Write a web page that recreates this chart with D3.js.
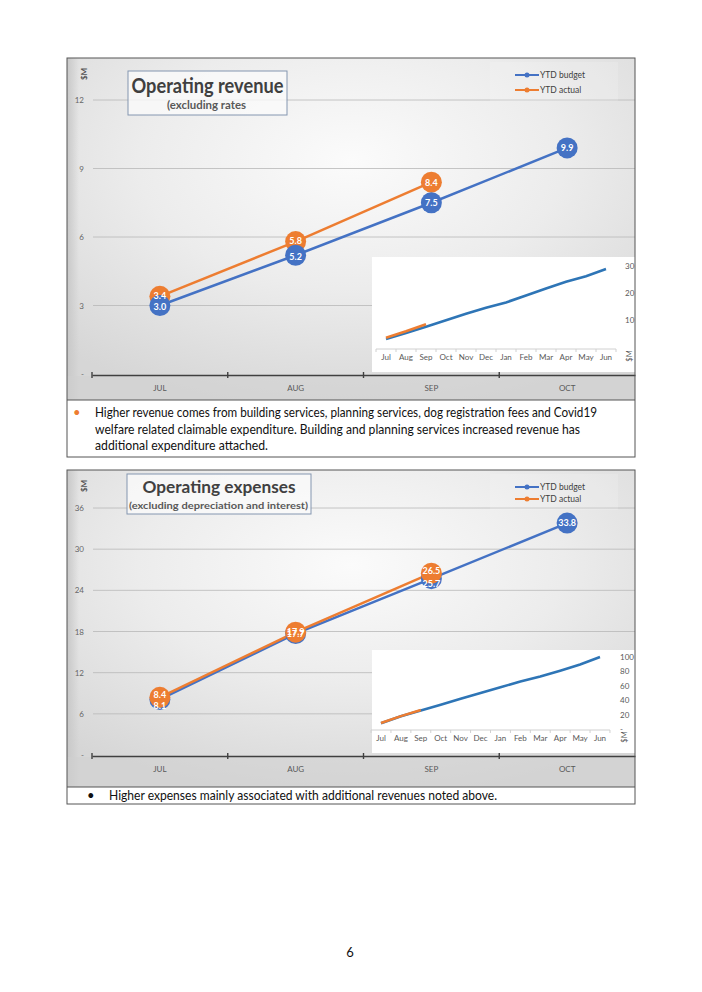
<!DOCTYPE html>
<html>
<head>
<meta charset="utf-8">
<script src="https://cdn.jsdelivr.net/npm/d3@7"></script>
<style>
  html, body { margin: 0; padding: 0; background: #fff; }
  svg { display: block; }
  text { font-family: Lato, "Open Sans", sans-serif; }
</style>
</head>
<body>
<script>
// ---------- DATA ----------
const months = ["JUL", "AUG", "SEP", "OCT"];
const revBudget = [3.0, 5.2, 7.5, 9.9];
const revActual = [3.4, 5.8, 8.4];
const revTicks = [0, 3, 6, 9, 12];
const expBudget = [8.1, 17.7, 25.7, 33.8];
const expActual = [8.4, 17.9, 26.5];
const expTicks = [0, 6, 12, 18, 24, 30, 36];
const insetMonths = ["Jul", "Aug", "Sep", "Oct", "Nov", "Dec", "Jan", "Feb", "Mar", "Apr", "May", "Jun"];
const revBudgetYear = [3.0, 5.2, 7.5, 9.9, 12.3, 14.5, 16.5, 19.1, 21.7, 24.2, 26.2, 28.9];
const revActualYear = [3.4, 5.8, 8.4];
const revInsetTicks = [10, 20, 30];
const expBudgetYear = [8.1, 17.7, 25.7, 33.8, 42, 50, 58, 66, 73, 81, 89.5, 100];
const expActualYear = [8.4, 17.9, 26.5];
const expInsetTicks = [0, 20, 40, 60, 80, 100];
const seriesNames = ["YTD budget", "YTD actual"];
const revNote = ["Higher revenue comes from building services, planning services, dog registration fees and Covid19",
  "welfare related claimable expenditure. Building and planning services increased revenue has",
  "additional expenditure attached."];
const expNote = ["Higher expenses mainly associated with additional revenues noted above."];

const BLUE = "#4472C4", ORANGE = "#ED7D31", INSET_BLUE = "#2E75B6";

const W = 702, H = 992;
const svg = d3.select("body").append("svg").attr("width", W).attr("height", H);
svg.append("rect").attr("width", W).attr("height", H).attr("fill", "#fff");

const defs = svg.append("defs");
const rg = defs.append("radialGradient").attr("id", "bg").attr("cx", "50%").attr("cy", "30%").attr("r", "75%");
rg.append("stop").attr("offset", "0%").attr("stop-color", "#fbfbfb");
rg.append("stop").attr("offset", "50%").attr("stop-color", "#ececec");
rg.append("stop").attr("offset", "100%").attr("stop-color", "#d6d6d6");
const lg = defs.append("linearGradient").attr("id", "leftStrip").attr("x1", "0").attr("x2", "1");
lg.append("stop").attr("offset", "0%").attr("stop-color", "#c8c8c8");
lg.append("stop").attr("offset", "100%").attr("stop-color", "#c8c8c8").attr("stop-opacity", 0);

function drawPanel(cfg) {
  const g = svg.append("g");
  // chart background
  g.append("rect").attr("x", cfg.left).attr("y", cfg.top).attr("width", cfg.right - cfg.left).attr("height", cfg.chartBottom - cfg.top)
    .attr("fill", "url(#bg)");
  g.append("rect").attr("x", cfg.left).attr("y", cfg.top).attr("width", 12).attr("height", cfg.chartBottom - cfg.top)
    .attr("fill", "url(#leftStrip)");
  g.append("rect").attr("x", cfg.left).attr("y", cfg.axisY + 2).attr("width", cfg.right - cfg.left).attr("height", cfg.chartBottom - cfg.axisY - 2)
    .attr("fill", "#cfcfcf").attr("opacity", 0.5);

  const x = d3.scaleBand().domain(months).range([cfg.plotL, cfg.right]).padding(0);
  const y = d3.scaleLinear().domain(cfg.domain).range([cfg.axisY, cfg.yTop]);

  // gridlines
  g.append("g").selectAll("line").data(cfg.ticks.filter(t => t > 0)).join("line")
    .attr("x1", cfg.plotL + 1).attr("x2", cfg.right)
    .attr("y1", d => y(d)).attr("y2", d => y(d))
    .attr("stroke", "#b8b8b8").attr("stroke-width", 0.8);
  // y labels
  g.append("g").selectAll("text").data(cfg.ticks).join("text")
    .attr("x", 84).attr("y", d => y(d) + 3).attr("text-anchor", "end")
    .attr("font-size", 8).attr("fill", "#666")
    .text(d => d === 0 ? "-" : d);
  // $M
  g.append("text").attr("transform", `translate(87,${cfg.top + 16}) rotate(-90)`)
    .attr("text-anchor", "middle").attr("font-size", 8).attr("font-weight", "bold").attr("fill", "#555").text("$M");

  // x axis
  const xa = g.append("g").attr("transform", `translate(0,${cfg.axisY + 1})`)
    .call(d3.axisBottom(x).tickSize(0).tickPadding(10));
  xa.select(".domain").attr("stroke", "#404040").attr("stroke-width", 1.6);
  xa.selectAll(".tick text").attr("font-size", 8).attr("fill", "#595959").attr("font-family", "Lato, sans-serif");
  const bounds = months.map(m => x(m));
  g.append("g").selectAll("line").data(bounds).join("line")
    .attr("x1", d => d).attr("x2", d => d).attr("y1", cfg.axisY - 2).attr("y2", cfg.axisY + 4)
    .attr("stroke", "#404040").attr("stroke-width", 1.4);

  // title box
  g.append("rect").attr("x", cfg.tb.x).attr("y", cfg.tb.y).attr("width", cfg.tb.w).attr("height", cfg.tb.h)
    .attr("fill", "#fafafa").attr("fill-opacity", 0.8).attr("stroke", "#8496b0").attr("stroke-width", 1);
  g.append("text").attr("x", cfg.tb.x + cfg.tb.w / 2).attr("y", cfg.tb.t1y).attr("text-anchor", "middle")
    .attr("font-size", cfg.tb.fs1).attr("font-weight", "bold").attr("fill", "#404040")
    .attr("textLength", cfg.tb.l1).attr("lengthAdjust", "spacingAndGlyphs").text(cfg.title);
  g.append("text").attr("x", cfg.tb.x2).attr("y", cfg.tb.t2y).attr("text-anchor", "middle")
    .attr("font-size", cfg.tb.fs2).attr("font-weight", "bold").attr("fill", "#595959")
    .attr("textLength", cfg.tb.l2).attr("lengthAdjust", "spacingAndGlyphs").text(cfg.subtitle);

  // legend
  g.append("rect").attr("x", 490).attr("y", cfg.legY - 13).attr("width", 128).attr("height", cfg.legGap + 24)
    .attr("fill", "#fff").attr("opacity", 0.15);
  [BLUE, ORANGE].forEach((c, i) => {
    const ly = cfg.legY + i * cfg.legGap;
    g.append("line").attr("x1", 515).attr("x2", 539).attr("y1", ly).attr("y2", ly).attr("stroke", c).attr("stroke-width", 2);
    g.append("circle").attr("cx", 527).attr("cy", ly).attr("r", 2.5).attr("fill", c);
    g.append("text").attr("x", 540).attr("y", ly + 3).attr("font-size", 8.5).attr("fill", "#404040").text(seriesNames[i]);
  });

  // inset
  const ins = cfg.inset;
  g.append("rect").attr("x", ins.x).attr("y", ins.y).attr("width", cfg.right - ins.x).attr("height", ins.h).attr("fill", "#fff");
  const ix = d3.scalePoint().domain(insetMonths).range(ins.xr);
  const iy = d3.scaleLinear().domain(ins.domain).range(ins.yr);
  const step = ix.step();
  g.append("line").attr("x1", ix("Jul") - step / 2).attr("x2", ix("Jun") + step / 2).attr("y1", ins.axisY).attr("y2", ins.axisY)
    .attr("stroke", "#d0d0d0").attr("stroke-width", 1);
  g.append("g").selectAll("line").data(insetMonths.concat(["end"])).join("line")
    .attr("x1", (d, i) => ix("Jul") - step / 2 + i * step).attr("x2", (d, i) => ix("Jul") - step / 2 + i * step)
    .attr("y1", ins.axisY).attr("y2", ins.axisY + 3).attr("stroke", "#d0d0d0");
  g.append("g").selectAll("text").data(insetMonths).join("text")
    .attr("x", d => ix(d)).attr("y", ins.axisY + 11).attr("text-anchor", "middle")
    .attr("font-size", 8).attr("fill", "#595959").text(d => d);
  g.append("g").selectAll("text").data(ins.ticks).join("text")
    .attr("x", ins.labelX).attr("y", d => iy(d) + 3).attr("font-size", 8).attr("fill", "#595959")
    .text(d => d === 0 ? "-" : d);
  g.append("text").attr("transform", `translate(${ins.labelX + 7},${ins.axisY + 7}) rotate(-90)`)
    .attr("text-anchor", "middle").attr("font-size", 7.5).attr("fill", "#595959").text("$M");
  const iline = d3.line().x((d, i) => ix(insetMonths[i])).y(d => iy(d));
  g.append("path").datum(ins.budget).attr("d", iline).attr("fill", "none").attr("stroke", INSET_BLUE).attr("stroke-width", 2.6);
  g.append("path").datum(ins.actual).attr("d", iline).attr("fill", "none").attr("stroke", ORANGE).attr("stroke-width", 2.6);

  // main lines
  const line = d3.line().x((d, i) => x(months[i]) + x.bandwidth() / 2).y(d => y(d));
  const series = [
    { vals: cfg.budget, c: BLUE, dy: cfg.budgetDy },
    { vals: cfg.actual, c: ORANGE, dy: cfg.actualDy }
  ];
  const order = cfg.blueOnTop ? [series[1], series[0]] : [series[0], series[1]];
  order.forEach(s => {
    g.append("path").datum(s.vals).attr("d", line).attr("fill", "none").attr("stroke", s.c).attr("stroke-width", 2.5);
  });
  order.forEach(s => {
    g.append("g").selectAll("circle").data(s.vals).join("circle")
      .attr("cx", (d, i) => x(months[i]) + x.bandwidth() / 2).attr("cy", d => y(d)).attr("r", 10.5).attr("fill", s.c);
  });
  order.forEach(s => {
    g.append("g").selectAll("text").data(s.vals).join("text")
      .attr("x", (d, i) => x(months[i]) + x.bandwidth() / 2).attr("y", (d, i) => y(d) + 3.3 + (s.dy[i] || 0)).attr("text-anchor", "middle")
      .attr("font-size", 9).attr("font-weight", "bold").attr("fill", "#fff").text(d => d3.format(".1f")(d));
  });

  // frame + text box
  g.append("rect").attr("x", cfg.left).attr("y", cfg.top).attr("width", cfg.right - cfg.left).attr("height", cfg.boxBottom - cfg.top)
    .attr("fill", "none").attr("stroke", "#555").attr("stroke-width", 1);
  g.append("line").attr("x1", cfg.left).attr("x2", cfg.right).attr("y1", cfg.chartBottom).attr("y2", cfg.chartBottom)
    .attr("stroke", "#555").attr("stroke-width", 1);
  g.append("text").attr("x", cfg.bulletX).attr("y", cfg.noteY).attr("font-size", 13).attr("fill", cfg.bulletColor).text("•");
  g.append("g").selectAll("text").data(cfg.note).join("text")
    .attr("x", cfg.noteX).attr("y", (d, i) => cfg.noteY + i * 16.5)
    .attr("font-size", 12.5).attr("fill", "#111")
    .attr("textLength", (d, i) => cfg.noteW[i]).attr("lengthAdjust", "spacingAndGlyphs")
    .text(d => d);
}

drawPanel({
  left: 67, right: 635, top: 58, chartBottom: 400, boxBottom: 457,
  plotL: 92, axisY: 374, yTop: 100, domain: [0, 12], ticks: revTicks,
  budget: revBudget, actual: revActual, blueOnTop: true, budgetDy: [1, 1, 0, 0], actualDy: [-1, -1, 0],
  title: "Operating revenue", subtitle: "(excluding rates",
  tb: { x: 128, y: 71, w: 159, h: 44, t1y: 93, t2y: 109, fs1: 20, fs2: 11, l1: 152, l2: 79, x2: 206.5 },
  legY: 75, legGap: 15,
  inset: { x: 372, y: 257, h: 115, xr: [386, 606], domain: [0, 30], yr: [347, 266], axisY: 349,
           ticks: revInsetTicks, labelX: 625, budget: revBudgetYear, actual: revActualYear },
  note: revNote, noteW: [502, 485, 173], noteX: 95, noteY: 417, bulletX: 73, bulletColor: ORANGE
});

drawPanel({
  left: 67, right: 635, top: 470, chartBottom: 787, boxBottom: 804,
  plotL: 92, axisY: 755, yTop: 508, domain: [0, 36], ticks: expTicks,
  budget: expBudget, actual: expActual, blueOnTop: false, budgetDy: [6.5, 0, 5, 0], actualDy: [-3, 0, -2.5],
  title: "Operating expenses", subtitle: "(excluding depreciation and interest)",
  tb: { x: 127, y: 474, w: 184, h: 40, t1y: 493, t2y: 508.5, fs1: 17, fs2: 9.5, l1: 153, l2: 179, x2: 218.5 },
  legY: 487, legGap: 12,
  inset: { x: 372, y: 650, h: 103, xr: [381, 600], domain: [0, 100], yr: [729, 657], axisY: 730,
           ticks: expInsetTicks, labelX: 620, budget: expBudgetYear, actual: expActualYear },
  note: expNote, noteW: [388], noteX: 109, noteY: 800, bulletX: 87, bulletColor: "#111"
});

svg.append("text").attr("x", 350).attr("y", 957).attr("text-anchor", "middle").attr("font-size", 13).attr("fill", "#111").text("6");
</script>
</body>
</html>
